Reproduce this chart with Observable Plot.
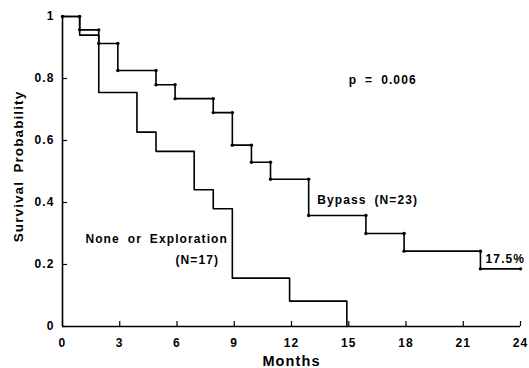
<!DOCTYPE html>
<html>
<head>
<meta charset="utf-8">
<script src="https://cdn.jsdelivr.net/npm/d3@7"></script>
<script src="https://cdn.jsdelivr.net/npm/@observablehq/plot@0.6"></script>
<style>
  html, body { margin: 0; padding: 0; background: #fff; }
  #chart svg { display: block; }
</style>
</head>
<body>
<div id="chart"></div>
<script>
// Bypass group (N=23)
const bypassTimes = [0, 0.9, 1.9, 2.9, 4.9, 5.9, 7.9, 8.9, 9.9, 10.9, 12.9, 15.9, 17.9, 21.9, 24];
const bypassSurv  = [1, 0.957, 0.913, 0.826, 0.78, 0.735, 0.69, 0.585, 0.53, 0.475, 0.358, 0.30, 0.243, 0.186, 0.186];
// None or Exploration group (N=17)
const noneTimes = [0, 0.9, 1.9, 3.9, 4.9, 6.9, 7.9, 8.9, 11.9, 14.9];
const noneSurv  = [1, 0.94, 0.755, 0.627, 0.565, 0.441, 0.38, 0.156, 0.082, 0];

const xTicks = [0, 3, 6, 9, 12, 15, 18, 21, 24];
const yTicks = [0, 0.2, 0.4, 0.6, 0.8, 1];

const annotations = [
  {text: "p = 0.006", x: 15, y: 0.794},
  {text: "Bypass (N=23)", x: 13.35, y: 0.409},
  {text: "None or Exploration", x: 1.2, y: 0.281},
  {text: "(N=17)", x: 5.92, y: 0.215},
  {text: "17.5%", x: 22.17, y: 0.218}
];

const bypass = bypassTimes.map((t, i) => ({t, s: bypassSurv[i]}));
const none = noneTimes.map((t, i) => ({t, s: noneSurv[i]}));
const bypassDots = [{t: bypassTimes[0], s: bypassSurv[0]}];
for (let i = 1; i < bypassTimes.length - 1; i++) {
  bypassDots.push({t: bypassTimes[i], s: bypassSurv[i - 1]});
  bypassDots.push({t: bypassTimes[i], s: bypassSurv[i]});
}
bypassDots.push({t: bypassTimes[bypassTimes.length - 1], s: bypassSurv[bypassSurv.length - 1]});

const fmt = d => String(d);

const chart = Plot.plot({
  width: 529,
  height: 368,
  marginLeft: 62,
  marginRight: 9,
  marginTop: 16,
  marginBottom: 42,
  x: {domain: [0, 24]},
  y: {domain: [0, 1]},
  style: {fontFamily: "'Liberation Sans', Arial, sans-serif", fontWeight: "bold", color: "#000", background: "#fff", letterSpacing: "1.1px", wordSpacing: "3.5px"},
  marks: [
    Plot.axisX({ticks: xTicks, tickSize: -5, tickPadding: 17, tickFormat: fmt, label: null, fontSize: 12, fontWeight: "bold", strokeWidth: 1.2}),
    Plot.axisY({ticks: yTicks, tickSize: -5, tickPadding: 13, tickFormat: fmt, label: null, fontSize: 12, fontWeight: "bold", strokeWidth: 1.2}),
    Plot.ruleX([0], {y1: 0, y2: 1, stroke: "#000", strokeWidth: 1.6}),
    Plot.ruleY([0], {x1: 0, x2: 24, stroke: "#000", strokeWidth: 1.6}),
    Plot.line(none, {x: "t", y: "s", curve: "step-after", stroke: "#000", strokeWidth: 1.6}),
    Plot.line(bypass, {x: "t", y: "s", curve: "step-after", stroke: "#000", strokeWidth: 1.6}),
    Plot.dot(bypassDots, {x: "t", y: "s", r: 1.7, fill: "#000", stroke: null}),
    Plot.text(annotations, {x: "x", y: "y", text: "text", textAnchor: "start", fontSize: 12, fontWeight: "bold", fill: "#000"}),
    Plot.text(["Survival Probability"], {frameAnchor: "left", textAnchor: "middle", lineAnchor: "middle", rotate: -90, dx: -44, dy: -5, fontSize: 13.5, fontWeight: "bold", fill: "#000"}),
    Plot.text(["Months"], {frameAnchor: "bottom", textAnchor: "middle", lineAnchor: "middle", dy: 35, fontSize: 14.5, fontWeight: "bold", fill: "#000"})
  ]
});
document.getElementById("chart").append(chart);
</script>
</body>
</html>
